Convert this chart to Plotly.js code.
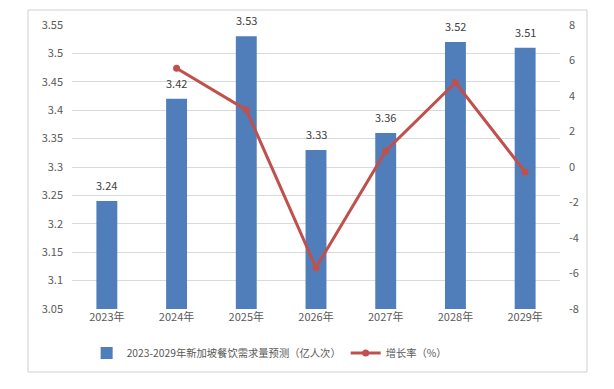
<!DOCTYPE html>
<html>
<head>
<meta charset="utf-8">
<script src="https://cdn.plot.ly/plotly-3.0.1.min.js"></script>
<style>html,body{margin:0;padding:0;background:#fff;}#chart{width:614px;height:389px;}</style>
</head>
<body>
<div id="chart"></div>
<script>
const years = ["2023年","2024年","2025年","2026年","2027年","2028年","2029年"];
const demand = [3.24, 3.42, 3.53, 3.33, 3.36, 3.52, 3.51];
const growthYears = ["2024年","2025年","2026年","2027年","2028年","2029年"];
const growth = [5.56, 3.22, -5.67, 0.90, 4.76, -0.28];
const rightTicks = [-8, -6, -4, -2, 0, 2, 4, 6, 8];
const rightTickLabels = ["-8", "-6", "-4", "-2", "0", "2", "4", "6", "8"];
const barName = "2023-2029年新加坡餐饮需求量预测（亿人次）";
const lineName = "增长率（%）";

const font = {family: "'Noto Sans CJK SC', 'Noto Sans', sans-serif", size: 11, color: "#595959"};

const traces = [
  {
    type: "bar", x: years, y: demand, name: barName,
    width: 0.3,
    marker: {color: "#4F7EBB"}
  },
  {
    type: "scatter", mode: "lines+markers", x: growthYears, y: growth, name: lineName,
    yaxis: "y2",
    line: {color: "#C0504D", width: 3},
    marker: {color: "#C0504D", size: 7}
  }
];

const annotations = years.map((yr, i) => ({
  x: yr, y: demand[i], xref: "x", yref: "y",
  text: demand[i].toFixed(2), showarrow: false,
  yanchor: "bottom", yshift: 6,
  font: {family: font.family, size: 11, color: "#404040"}
}));

const layout = {
  width: 614, height: 389,
  margin: {l: 72, r: 54, t: 25, b: 80},
  paper_bgcolor: "#fff", plot_bgcolor: "#fff",
  font: font,
  showlegend: true,
  legend: {orientation: "h", x: 0.03, xanchor: "left", y: -0.155, yanchor: "middle",
           font: {family: font.family, size: 10.3, color: "#595959"}, itemwidth: 30, tracegroupgap: 0},
  xaxis: {type: "category", showgrid: false, showline: false, ticks: "", tickfont: font, fixedrange: true},
  yaxis: {range: [3.05, 3.55], dtick: 0.05, tick0: 3.05, showgrid: true, gridcolor: "#D9D9D9", gridwidth: 1,
          zeroline: false, showline: false, ticks: "", tickfont: font, ticklabelstandoff: 8},
  yaxis2: {overlaying: "y", side: "right", range: [-8, 8], tickmode: "array", tickvals: rightTicks, ticktext: rightTickLabels,
           showgrid: false, zeroline: false, showline: false, ticks: "", tickfont: font, ticklabelstandoff: 8},
  annotations: annotations,
  shapes: [
    {type: "rect", xref: "paper", yref: "paper", x0: -0.0902, x1: 1.0553, y0: -0.2218, y1: 1.0528,
     line: {color: "#D0D0D0", width: 1}, fillcolor: "rgba(0,0,0,0)", layer: "below"}
  ]
};

Plotly.newPlot("chart", traces, layout, {staticPlot: true});
</script>
</body>
</html>
